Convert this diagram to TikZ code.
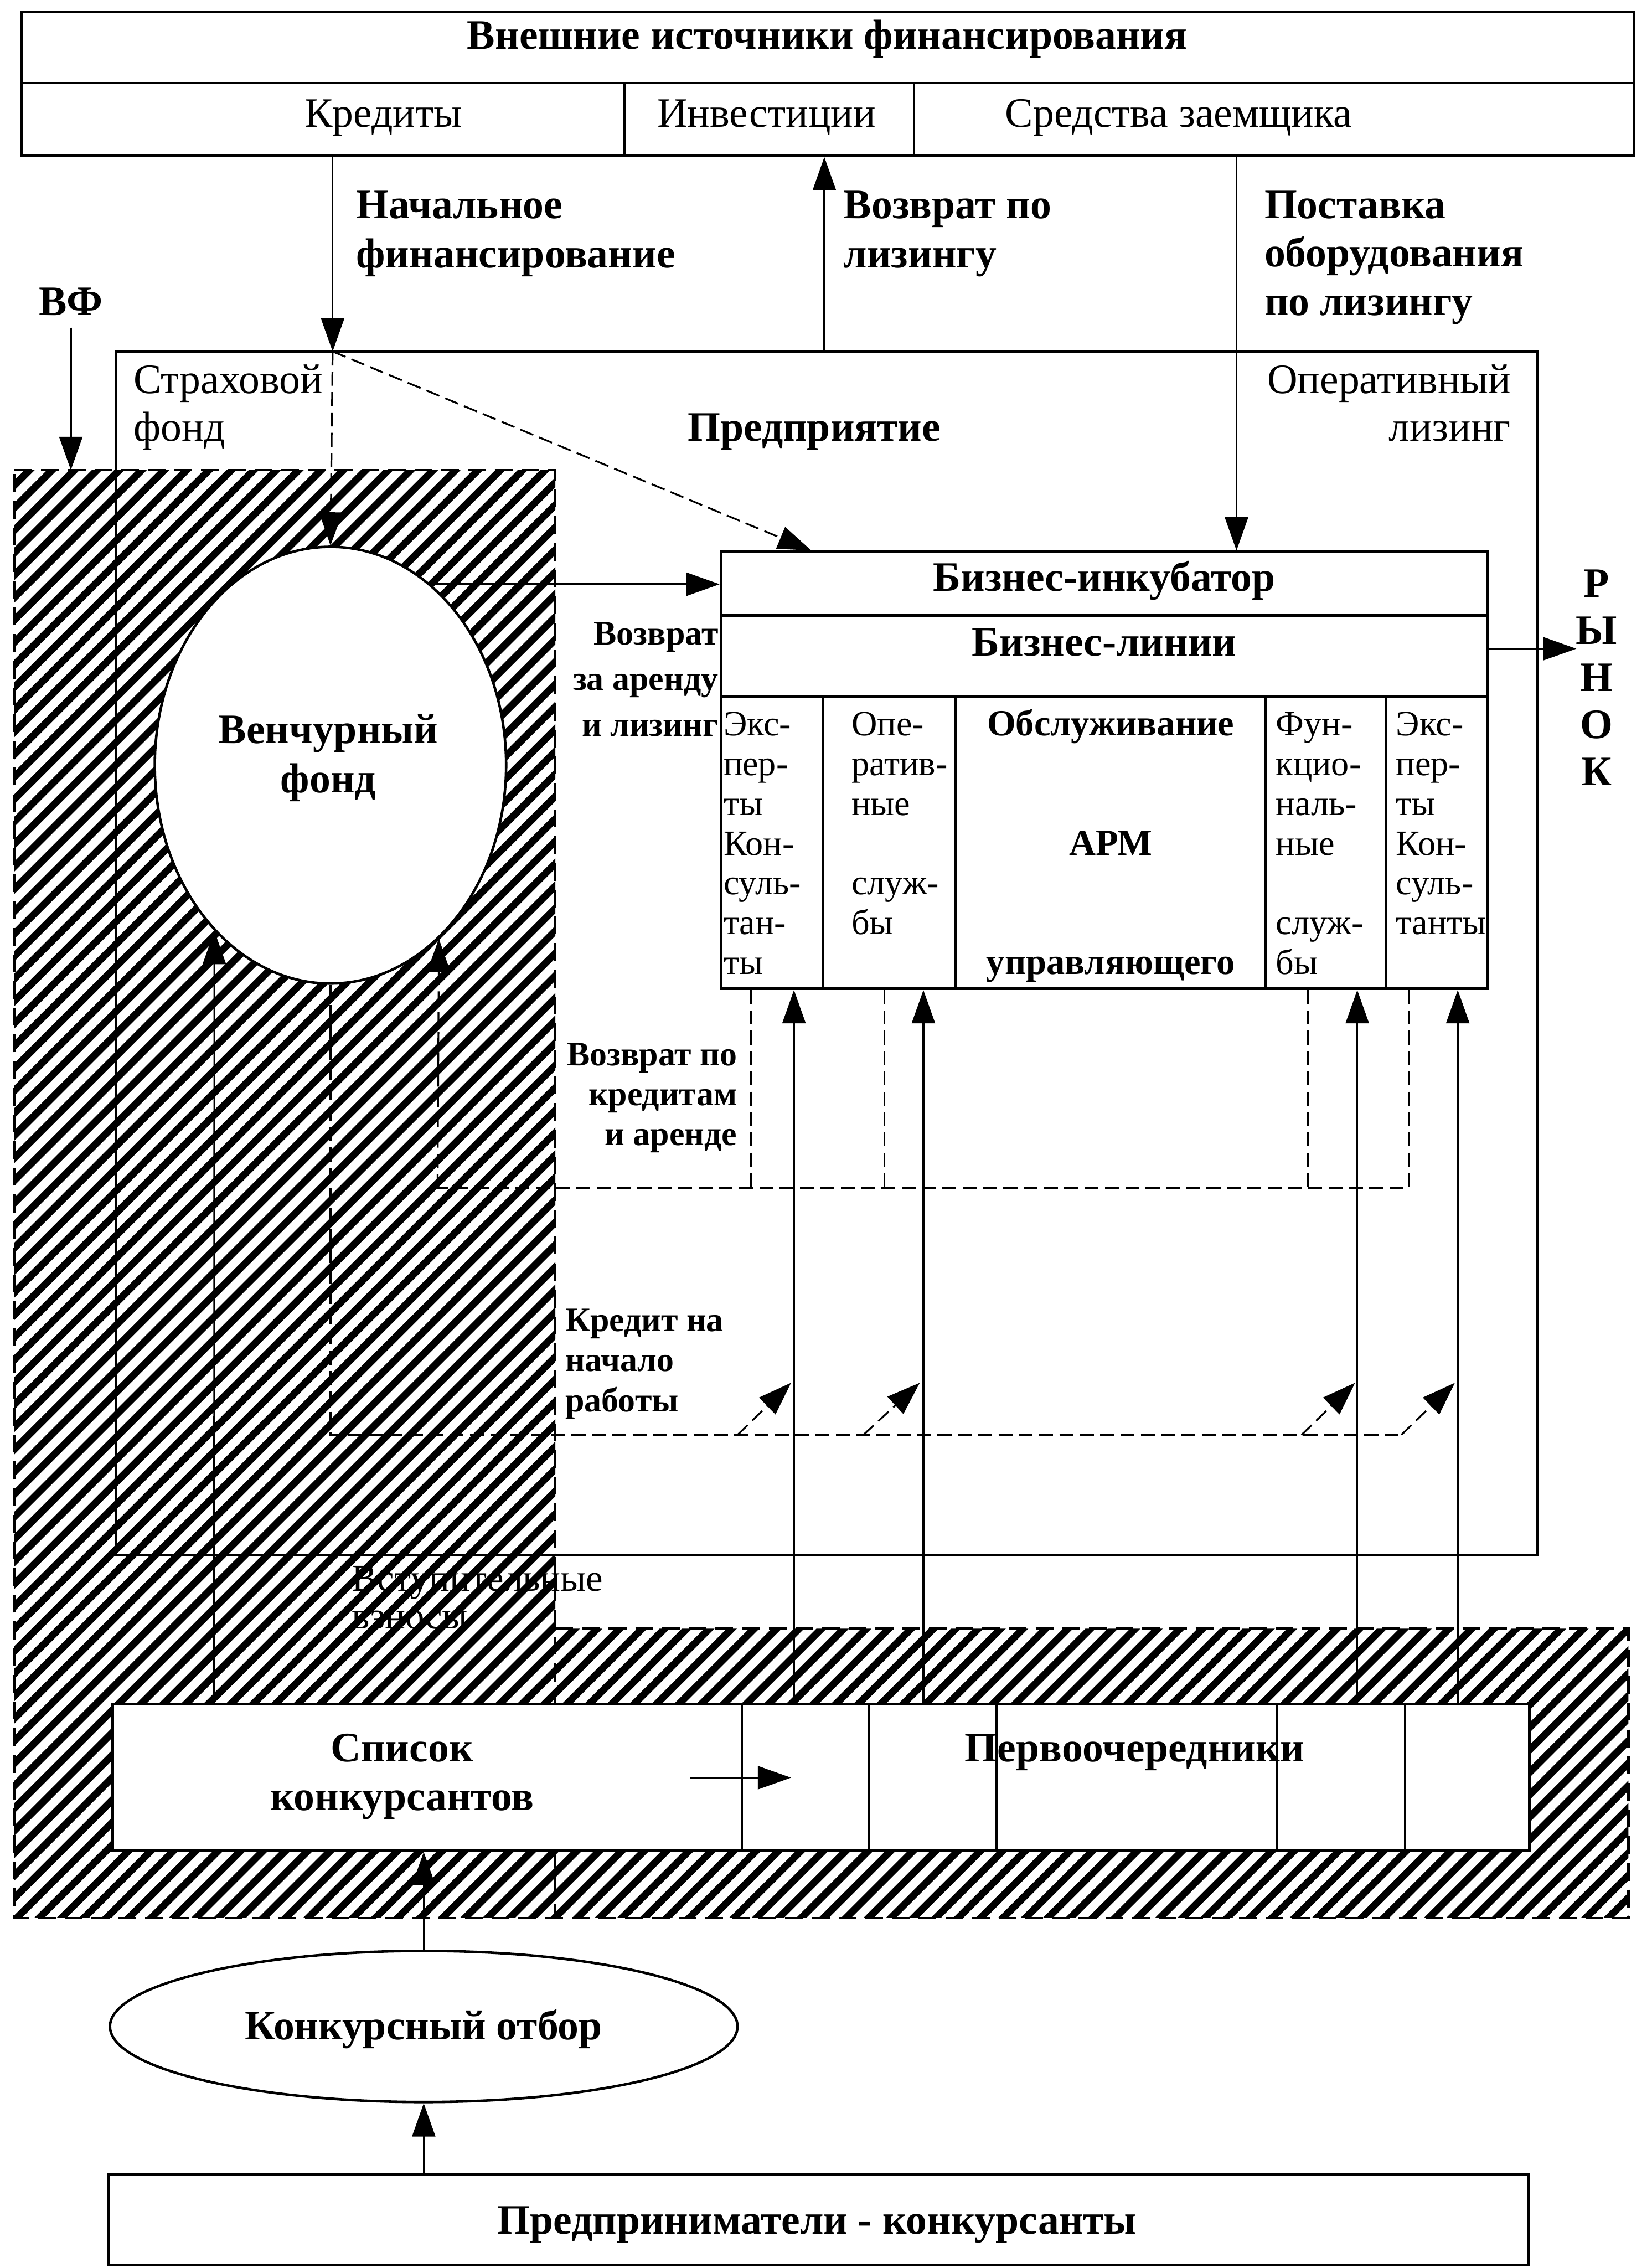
\documentclass[tikz,border=0pt]{standalone}
\usepackage{fontspec}
\setmainfont{Liberation Serif}
\usetikzlibrary{arrows.meta,shapes.geometric,fit}
\begin{document}
\begin{tikzpicture}[x=0.02cm,y=-0.02cm,
  box/.style={draw,line width=1pt,inner sep=0pt},
  sep/.style={line width=1pt},
  arr/.style={line width=0.7pt,-{Triangle[length=0.46cm,width=0.32cm]}},
  dsh/.style={line width=0.8pt,dash pattern=on 5.5pt off 2.5pt},
  hb/.style={line width=1pt,dash pattern=on 7pt off 3.5pt},
  bl/.style={font=\fontsize{16.5}{19.3}\selectfont\bfseries,inner sep=0pt},
  rg/.style={font=\fontsize{16.5}{19.3}\selectfont,inner sep=0pt},
  sm/.style={font=\fontsize{15}{17}\selectfont,inner sep=0pt},
  bm/.style={font=\fontsize{13.5}{16}\selectfont\bfseries,inner sep=0pt},
  col/.style={font=\fontsize{14}{16}\selectfont,inner sep=0pt,anchor=base west},
  colb/.style={font=\fontsize{14.5}{16}\selectfont\bfseries,inner sep=0pt,anchor=base},
]
\useasboundingbox (0,0) rectangle (1142,1568);

% ---------- entry fees label (lies under the hatching) ----------
\node[sm,anchor=base west] (vz0) at (243,1100) {Вступительные};
\node[sm,anchor=base west] (vz1) at (243,1126) {взносы};

% ---------- hatched venture zone ----------
\coordinate (htl) at (10,325);
\begin{scope}
  \clip (10,325) -- (384,325) -- (384,1126) -- (1126,1126) -- (1126,1326) -- (10,1326) -- cycle;
  \foreach \c in {330,345.5,...,2470}
    \draw[line width=2.8pt] (\c-290,290) -- (\c-1340,1340);
\end{scope}
\draw[hb] (htl) -- (384,325) -- (384,1326);
\draw[hb] (384,1126) -- (1126,1126) -- (1126,1326) -- (10,1326) -- (htl);

% ---------- external sources ----------
\node[box,fit={(15,8) (1130,107.7)}] (ext) {};
\draw[sep] (15,57.5) -- (1130,57.5);
\draw[sep] (432,57.5) -- (432,107.7);
\draw[sep] (632,57.5) -- (632,107.7);
\node[bl,anchor=base] (ttl) at (572,34) {Внешние источники финансирования};
\node[rg,anchor=base] (kred) at (265,88) {Кредиты};
\node[rg,anchor=base] (inv) at (530,88) {Инвестиции};
\node[rg,anchor=base] (szm) at (815,88) {Средства заемщика};

% ---------- enterprise ----------
\node[box,fit={(80,243) (1063,1075.3)}] (ent) {};
\node[rg,anchor=base west] (sf0) at (92,272) {Страховой};
\node[rg,anchor=base west] (sf1) at (92,305) {фонд};
\node[bl,anchor=base] (pred) at (563,305) {Предприятие};
\node[rg,anchor=base east] (ol0) at (1045,272) {Оперативный};
\node[rg,anchor=base east] (ol1) at (1045,305) {лизинг};

% ---------- flow labels at the top ----------
\foreach \t [count=\i from 0] in {Начальное,финансирование}
  \node[bl,anchor=base west] (nf\i) at (246,151+34*\i) {\t};
\foreach \t [count=\i from 0] in {Возврат по,лизингу}
  \node[bl,anchor=base west] (vl\i) at (583,151+34*\i) {\t};
\foreach \t [count=\i from 0] in {Поставка,оборудования,по лизингу}
  \node[bl,anchor=base west] (po\i) at (874,151+33.5*\i) {\t};
\node[bl,anchor=base] (vfl) at (49,218) {ВФ};

% ---------- venture fund ----------
\node[draw,ellipse,fill=white,line width=1pt,inner sep=0pt,
      minimum width=4.86cm,minimum height=6.04cm] (vf) at (228.5,529) {};
\node[bl,anchor=base] (vft0) at (227,514) {Венчурный};
\node[bl,anchor=base] (vft1) at (227,548) {фонд};

% ---------- business incubator ----------
\node[box,fit={(498.5,381.5) (1028.5,683.6)}] (inc) {};
\draw[sep] (498.5,425.6) -- (1028.5,425.6);
\draw[sep] (498.5,481.6) -- (1028.5,481.6);
\foreach \x in {569,661,875,958.5}
  \draw[sep] (\x,481.6) -- (\x,683.6);
\node[bl,anchor=base] (bi) at (763.5,408.5) {Бизнес-инкубатор};
\node[bl,anchor=base] (bln) at (763.5,453.6) {Бизнес-линии};
\foreach \t [count=\i from 0] in {Экс-,пер-,ты,Кон-,суль-,тан-,ты}
  \node[col] (ca\i) at (500,508.6+27.5*\i) {\t};
\foreach \t/\k in {Опе-/0,ратив-/1,ные/2,служ-/4,бы/5}
  \node[col] (cb\k) at (588.5,508.6+27.5*\k) {\t};
\node[colb] (cc0) at (768,508.6) {Обслуживание};
\node[colb] (cc1) at (768,591.1) {АРМ};
\node[colb] (cc2) at (768,673.6) {управляющего};
\foreach \t/\k in {Фун-/0,кцио-/1,наль-/2,ные/3,служ-/5,бы/6}
  \node[col] (cd\k) at (882,508.6+27.5*\k) {\t};
\foreach \t [count=\i from 0] in {Экс-,пер-,ты,Кон-,суль-,танты}
  \node[col] (ce\i) at (965,508.6+27.5*\i) {\t};

% ---------- market ----------
\coordinate (mkt) at (1090,448.5);
\draw[arr] (inc.east |- mkt) -- (mkt);
\foreach \l [count=\i from 0] in {Р,Ы,Н,О,К}
  \node[bl,anchor=base] (rn\i) at (1104,413+32.5*\i) {\l};

% ---------- inner labels ----------
\foreach \t [count=\i from 0] in {Возврат,за аренду,и лизинг}
  \node[bm,anchor=base east] (va\i) at (497,445.6+31.6*\i) {\t};
\foreach \t [count=\i from 0] in {Возврат по,кредитам,и аренде}
  \node[bm,anchor=base east] (vk\i) at (510,736.6+27.6*\i) {\t};
\foreach \t [count=\i from 0] in {Кредит на,начало,работы}
  \node[bm,anchor=base west] (kn\i) at (390.6,920.5+27.7*\i) {\t};

% ---------- list of contestants ----------
\node[box,fill=white,fit={(78,1178) (1057.5,1279.5)}] (lst) {};
\foreach \x in {513,601,689,883,971.5}
  \draw[sep] (\x,1178) -- (\x,1279.5);
\node[bl,anchor=base] (sk0) at (278,1218) {Список};
\node[bl,anchor=base] (sk1) at (278,1251.5) {конкурсантов};
\node[bl,anchor=base] (pv) at (784.5,1218) {Первоочередники};
\coordinate (la) at (477,1229);
\coordinate (lb) at (547,1229);
\draw[arr] (la) -- (lb);

% ---------- selection ----------
\node[draw,ellipse,line width=1pt,inner sep=0pt,
      minimum width=8.68cm,minimum height=2.09cm] (ko) at (293,1401) {};
\node[bl,anchor=base] (kot) at (293,1410) {Конкурсный отбор};
\node[box,fit={(75,1503) (1057,1566)}] (pk) {};
\node[bl,anchor=base] (pkt) at (565,1544.5) {Предприниматели - конкурсанты};

% ---------- top connectors ----------
\coordinate (nfin) at (230,243);
\draw[arr] (nfin |- ext.south) -- (nfin);
\draw[arr] (570,0 |- ent.north) -- (570,0 |- ext.south);
\draw[arr] (855,0 |- ext.south) -- (855,0 |- inc.north);
\draw[arr] ([yshift=-0.16cm]vfl.south) -- (vfl.south |- htl);
\draw[dsh,arr] (nfin) -- (vf.north);
\draw[dsh,arr] (nfin) -- (561,0 |- inc.north);
\draw[arr] (vf.61.5) -- (inc.west |- vf.61.5);

% ---------- repayment loop (dashed) ----------
\coordinate (rt) at (302.6,821.5);
\draw[dsh] (974,0 |- inc.south) |- (rt);
\foreach \x in {519,611.5,904.5}
  \draw[dsh] (\x,0 |- inc.south) -- (\x,0 |- rt);
\draw[dsh,arr] (rt) -- (vf.-58.3);

% ---------- start-up credit (dashed) ----------
\coordinate (cr) at (969,992);
\draw[dsh] (vf.south) |- (cr);
\foreach \a/\b in {510/547,597/636,900/937,969/1006}
  \draw[dsh,arr] (\a,992) -- (\b,956);

% ---------- upward flows ----------
\foreach \x in {549,638.5,938.5,1008}
  \draw[arr] (\x,0 |- lst.north) -- (\x,0 |- inc.south);
\draw[arr] (148,0 |- lst.north) -- (vf.-125.5);
\draw[arr] (ko.north) -- (ko.north |- lst.south);
\draw[arr] (ko.south |- pk.north) -- (ko.south);
\end{tikzpicture}
\end{document}
